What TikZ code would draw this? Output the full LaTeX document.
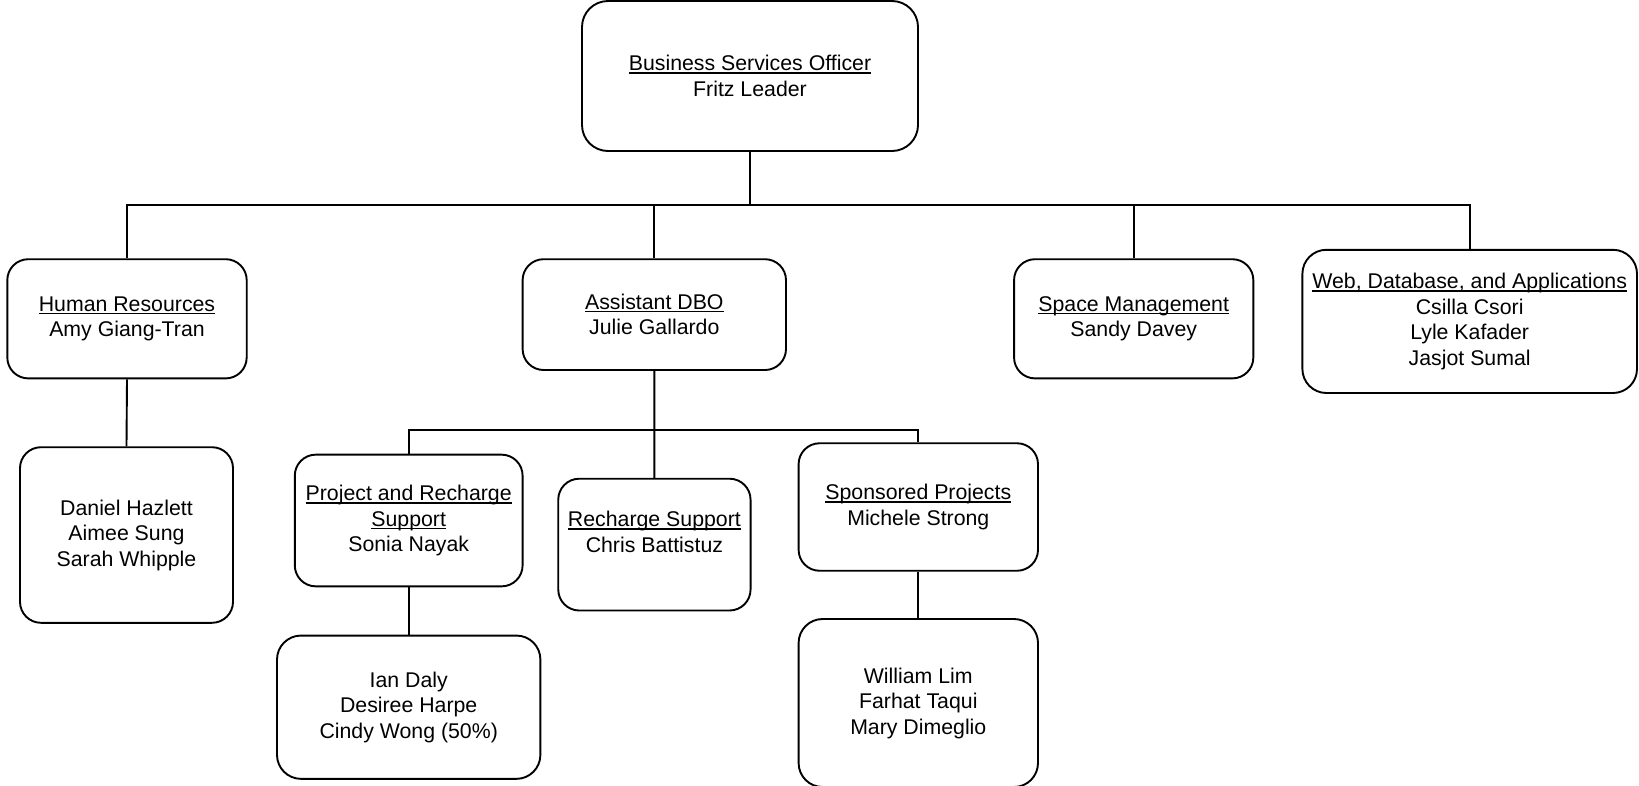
\documentclass[tikz,border=0pt]{standalone}
\usepackage{fontspec}
\setmainfont{Liberation Sans}
\newcommand{\ulx}[1]{\setbox0\hbox{#1}\rlap{\rule[-3pt]{\wd0}{1.4pt}}\box0}
\tikzset{
  orgbox/.style={draw=black, line width=1.9pt, rounded corners=#1, align=center,
    inner sep=0pt, font=\fontsize{21.3}{25.5}\selectfont, text=black},
  orgbox/.default=21pt,
  link/.style={draw=black, line width=1.9pt}
}
\begin{document}
\begin{tikzpicture}[x=1pt,y=-1pt]
\clip (0,0) rectangle (1639,785);
\fill[white] (0,0) rectangle (1639,785);

\node[orgbox=26pt, minimum width=336pt, minimum height=150pt] (top) at (750,76)
  {\ulx{Business Services Officer}\\Fritz Leader};

\node[orgbox, minimum width=239.4pt, minimum height=119.2pt] (hr) at (127,318.8)
  {\ulx{Human Resources}\\Amy Giang-Tran};
\node[orgbox, minimum width=213pt, minimum height=175.6pt] (hrsub) at (126.5,535)
  {Daniel Hazlett\\Aimee Sung\\Sarah Whipple};

\node[orgbox, minimum width=263.4pt, minimum height=110.8pt] (adbo) at (654.3,314.6)
  {\ulx{Assistant DBO}\\Julie Gallardo};

\node[orgbox, minimum width=239.3pt, minimum height=119.2pt] (space) at (1133.7,318.8)
  {\ulx{Space Management}\\Sandy Davey};

\node[orgbox=24pt, minimum width=334.6pt, minimum height=143.2pt] (web) at (1469.7,321.4)
  {\ulx{Web, Database, and Applications}\\Csilla Csori\\Lyle Kafader\\Jasjot Sumal};

\node[orgbox, minimum width=227.8pt, minimum height=131.7pt] (prs) at (408.7,520.5)
  {\ulx{Project and Recharge}\\\ulx{Support}\\Sonia Nayak};

\node[orgbox, minimum width=192.3pt, minimum height=131.8pt] (rs) at (654.4,544.6)
  {\ulx{Recharge Support}\\Chris Battistuz\\\mbox{}};

\node[orgbox, minimum width=239.4pt, minimum height=127.5pt] (sp) at (918.3,507)
  {\ulx{Sponsored Projects}\\Michele Strong};

\node[orgbox=24pt, minimum width=263.4pt, minimum height=143.3pt] (ian) at (408.7,707.2)
  {Ian Daly\\Desiree Harpe\\Cindy Wong (50\%)};

\node[orgbox=24pt, minimum width=239.4pt, minimum height=168pt] (wl) at (918.3,703)
  {William Lim\\Farhat Taqui\\Mary Dimeglio};

\coordinate (bus) at (750,205);
\coordinate (sbus) at (654.3,429.6);

\draw[link] (top.south) -- (bus);
\draw[link] (hr.north) -- (hr.north |- bus) -- (web.north |- bus) -- (web.north);
\draw[link] (adbo.north) -- (adbo.north |- bus);
\draw[link] (space.north) -- (space.north |- bus);

\draw[link] (adbo.south) -- (rs.north);
\draw[link] (prs.north) -- (prs.north |- sbus) -- (sp.north |- sbus) -- (sp.north);

\draw[link] (hr.south) -- (hrsub.north);
\draw[link] (prs.south) -- (ian.north);
\draw[link] (sp.south) -- (wl.north);
\end{tikzpicture}
\end{document}
